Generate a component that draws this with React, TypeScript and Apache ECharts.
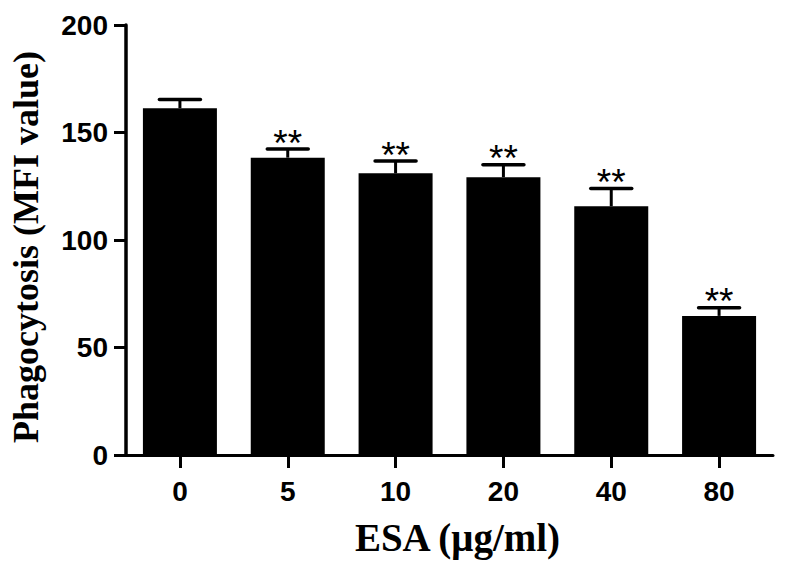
import React, { useEffect, useRef } from "react";
import * as echarts from "echarts";

const categories = ["0", "5", "10", "20", "40", "80"];
const means = [161.3, 138.3, 131.0, 129.2, 115.7, 64.7];
const errors = [4.0, 4.0, 5.7, 5.8, 8.3, 3.8];
const marks = ["", "**", "**", "**", "**", "**"];
const yTicks = { min: 0, max: 200, interval: 50 };

export default function App() {
  const ref = useRef<HTMLDivElement>(null);
  useEffect(() => {
    if (!ref.current) return;
    const chart = echarts.init(ref.current, null, { renderer: "svg" });
    const errData = means.map((m, i) => [i, m, m + errors[i], marks[i]]);
    chart.setOption({
      animation: false,
      backgroundColor: "#ffffff",
      grid: { left: 126, right: 13, top: 25, bottom: 116 },
      xAxis: {
        type: "category",
        data: categories,
        boundaryGap: true,
        name: "ESA (μg/ml)",
        nameLocation: "middle",
        nameGap: 63,
        nameTextStyle: {
          fontFamily: "Liberation Serif",
          fontWeight: "bold",
          fontSize: 39,
          color: "#000",
          padding: [0, 0, 0, 16],
        },
        axisLine: { show: true, lineStyle: { color: "#000", width: 3 } },
        axisTick: {
          show: true,
          alignWithLabel: true,
          length: 13,
          lineStyle: { color: "#000", width: 3 },
        },
        axisLabel: {
          margin: 22,
          fontFamily: "Liberation Sans",
          fontWeight: "bold",
          fontSize: 28,
          color: "#000",
        },
        splitLine: { show: false },
      },
      yAxis: {
        type: "value",
        min: yTicks.min,
        max: yTicks.max,
        interval: yTicks.interval,
        name: "Phagocytosis (MFI value)",
        nameLocation: "middle",
        nameGap: 82,
        nameTextStyle: {
          fontFamily: "Liberation Serif",
          fontWeight: "bold",
          fontSize: 36,
          color: "#000",
          padding: [0, 14, 0, 0],
        },
        axisLine: { show: true, lineStyle: { color: "#000", width: 3.5 } },
        axisTick: { show: true, length: 12, lineStyle: { color: "#000", width: 3 } },
        axisLabel: {
          margin: 18,
          fontFamily: "Liberation Sans",
          fontWeight: "bold",
          fontSize: 28,
          color: "#000",
        },
        splitLine: { show: false },
      },
      series: [
        {
          type: "bar",
          data: means,
          barWidth: 74,
          itemStyle: { color: "#000" },
          z: 2,
        },
        {
          type: "custom",
          data: errData,
          z: 3,
          renderItem: (params: any, api: any) => {
            const idx = api.value(0);
            const top = api.coord([idx, api.value(1)]);
            const cap = api.coord([idx, api.value(2)]);
            const hw = 20.5;
            const mark = marks[params.dataIndex];
            const children: any[] = [
              {
                type: "line",
                shape: { x1: top[0], y1: top[1], x2: cap[0], y2: cap[1] },
                style: { stroke: "#000", lineWidth: 3 },
              },
              {
                type: "line",
                shape: { x1: cap[0] - hw, y1: cap[1], x2: cap[0] + hw, y2: cap[1] },
                style: { stroke: "#000", lineWidth: 3.5, lineCap: "round" },
              },
            ];
            if (mark) {
              children.push({
                type: "text",
                style: {
                  text: mark,
                  x: cap[0],
                  y: cap[1] - 6,
                  align: "center",
                  verticalAlign: "middle",
                  fontFamily: "Liberation Sans",
                  fontSize: 37,
                  fill: "#000",
                },
              });
            }
            return { type: "group", children };
          },
        },
      ],
    });
    return () => chart.dispose();
  }, []);
  return (
    <div
      ref={ref}
      style={{ position: "fixed", left: 0, top: 0, width: 786, height: 571 }}
    />
  );
}
